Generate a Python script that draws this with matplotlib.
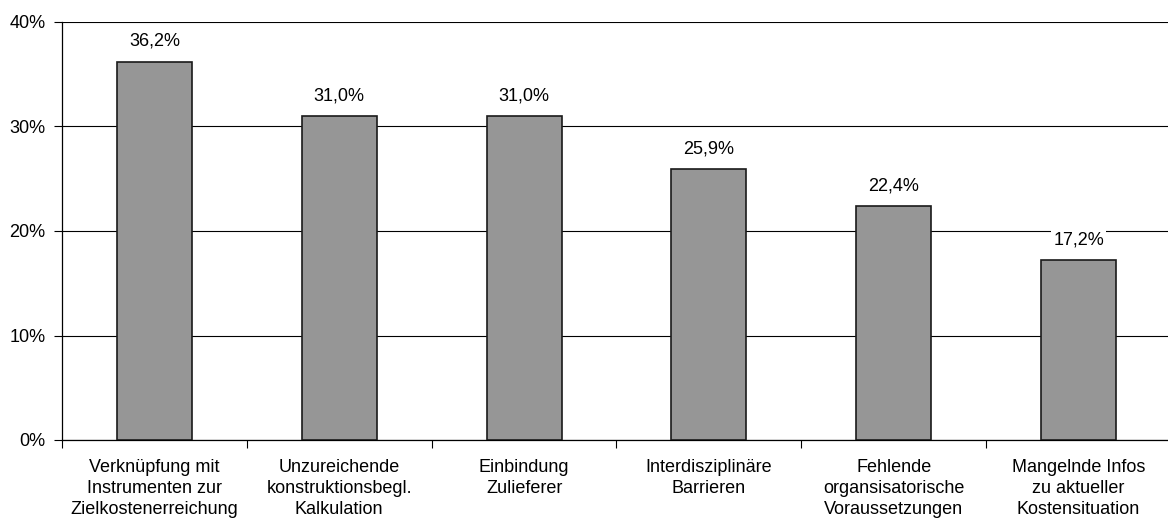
import matplotlib
matplotlib.use("Agg")
import matplotlib.pyplot as plt
import numpy as np

categories = ["Verknüpfung mit\nInstrumenten zur\nZielkostenerreichung",
              "Unzureichende\nkonstruktionsbegl.\nKalkulation",
              "Einbindung\nZulieferer",
              "Interdisziplinäre\nBarrieren",
              "Fehlende\norgansisatorische\nVoraussetzungen",
              "Mangelnde Infos\nzu aktueller\nKostensituation"]
values = [36.2, 31.0, 31.0, 25.9, 22.4, 17.2]
yticks = [0, 10, 20, 30, 40]

plt.rcParams['font.family'] = ['Liberation Sans', 'DejaVu Sans']
fig = plt.figure(figsize=(11.68, 5.23), dpi=100)
ax = fig.add_axes([62/1168, 1-440/523, (1171-62)/1168, (440-22)/523])

x = np.arange(len(values))
bars = ax.bar(x, values, width=0.405, color='#969696', edgecolor='#1a1a1a', linewidth=1.2, zorder=3)
ax.set_xlim(-0.5, len(values)-0.5)
ax.set_ylim(0, 40)
ax.set_yticks(yticks)
ax.set_yticklabels([f"{v}%" for v in yticks], fontsize=13)
ax.yaxis.grid(True, color='#000000', linewidth=0.8, zorder=0)
ax.tick_params(axis='y', direction='out', length=6, width=0.8, pad=6)

ax.set_xticks(x)
ax.set_xticklabels(categories, fontsize=13, linespacing=1.28)
ax.tick_params(axis='x', length=0, pad=14)
ax.set_xticks(np.arange(-0.5, len(values), 1.0), minor=True)
ax.tick_params(axis='x', which='minor', direction='out', length=6, width=0.8)

for s in ['top', 'right']:
    ax.spines[s].set_visible(False)
for s in ['left', 'bottom']:
    ax.spines[s].set_linewidth(0.9)

for xi, v in zip(x, values):
    ax.annotate(f"{v:.1f}%".replace('.', ','), (xi, v), xytext=(0, 8.5), textcoords='offset points',
                ha='center', va='bottom', fontsize=13, zorder=4,
                bbox=dict(facecolor='white', edgecolor='none', pad=1.5))

fig.savefig('out.png', dpi=100)
